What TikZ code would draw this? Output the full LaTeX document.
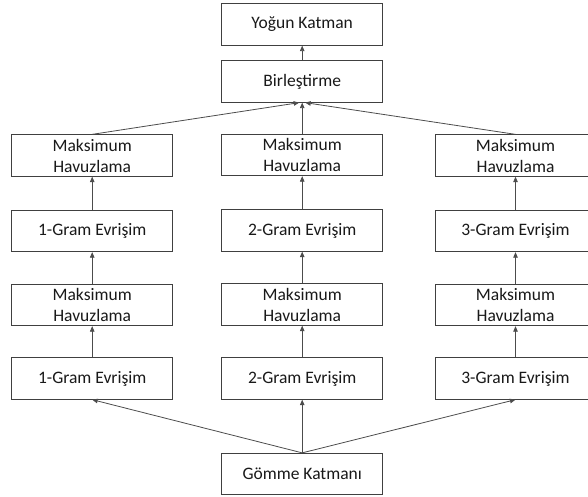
\documentclass[tikz,border=0pt]{standalone}
\usepackage{fontspec}
\setmainfont{Carlito}
\usetikzlibrary{arrows.meta}
\tikzset{
  layer/.style={draw=black!75, line width=0.8pt, fill=white, minimum width=161pt, minimum height=41.5pt,
    inner sep=0pt, align=center, font=\fontsize{17.5}{21}\selectfont, text=black!90},
  conn/.style={draw=black!70, line width=0.8pt, -{Triangle[length=5.5pt,width=4.5pt]}}
}
\begin{document}
\begin{tikzpicture}[x=1pt,y=-1pt]
\useasboundingbox (0,0) rectangle (588,497);
\clip (0,0) rectangle (588,497);
% nodes
\node[layer] (dense) at (302.2,24.5) {Yoğun Katman};
\node[layer] (concat) at (302.2,81.5) {Birleştirme};
\node[layer] (mpA1) at (92.2,155.5) {Maksimum\\Havuzlama};
\node[layer] (mpB1) at (302.2,155) {Maksimum\\Havuzlama};
\node[layer] (mpC1) at (515.5,155.5) {Maksimum\\Havuzlama};
\node[layer] (cvA1) at (92.2,231) {1-Gram Evrişim};
\node[layer] (cvB1) at (302.2,230.5) {2-Gram Evrişim};
\node[layer] (cvC1) at (515.5,231) {3-Gram Evrişim};
\node[layer] (mpA2) at (92.2,305) {Maksimum\\Havuzlama};
\node[layer] (mpB2) at (302.2,304.5) {Maksimum\\Havuzlama};
\node[layer] (mpC2) at (515.5,305) {Maksimum\\Havuzlama};
\node[layer] (cvA2) at (92.2,378.5) {1-Gram Evrişim};
\node[layer] (cvB2) at (302.2,378.5) {2-Gram Evrişim};
\node[layer] (cvC2) at (515.5,378.5) {3-Gram Evrişim};
\node[layer] (emb) at (302.2,474) {Gömme Katmanı};
% connectors
\draw[conn] (concat.north) -- (dense.south);
\draw[conn] (mpA1.north) -- ([xshift=-3pt]concat.south);
\draw[conn] (mpB1.north) -- (concat.south);
\draw[conn] (mpC1.north) -- ([xshift=3pt]concat.south);
\draw[conn] (cvA1.north) -- (mpA1.south);
\draw[conn] (cvB1.north) -- (mpB1.south);
\draw[conn] (cvC1.north) -- (mpC1.south);
\draw[conn] (mpA2.north) -- (cvA1.south);
\draw[conn] (mpB2.north) -- (cvB1.south);
\draw[conn] (mpC2.north) -- (cvC1.south);
\draw[conn] (cvA2.north) -- (mpA2.south);
\draw[conn] (cvB2.north) -- (mpB2.south);
\draw[conn] (cvC2.north) -- (mpC2.south);
\draw[conn] (emb.north) -- (cvA2.south);
\draw[conn] (emb.north) -- (cvB2.south);
\draw[conn] (emb.north) -- (cvC2.south);
\end{tikzpicture}
\end{document}
